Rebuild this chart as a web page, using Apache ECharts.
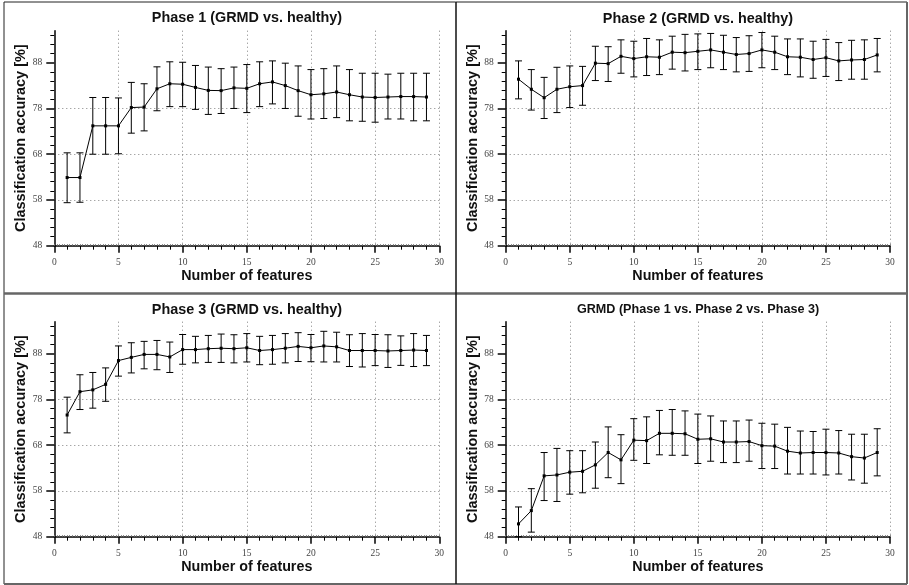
<!DOCTYPE html>
<html><head><meta charset="utf-8">
<script src="https://cdn.jsdelivr.net/npm/echarts@6/dist/echarts.min.js"></script>
<style>html,body{margin:0;padding:0;background:#fff}#c{width:909px;height:585px}</style>
</head><body><div id="c"></div>
<script>
const features = [1,2,3,4,5,6,7,8,9,10,11,12,13,14,15,16,17,18,19,20,21,22,23,24,25,26,27,28,29];
const yMajorTicks = [48,58,68,78,88];
const yMinorTicks = [50,52,54,56,60,62,64,66,70,72,74,76,80,82,84,86,90,92,94];
const titles = ['Phase 1 (GRMD vs. healthy)','Phase 2 (GRMD vs. healthy)','Phase 3 (GRMD vs. healthy)','GRMD (Phase 1 vs. Phase 2 vs. Phase 3)'];
const xName = 'Number of features';
const yName = 'Classification accuracy [%]';

const p1Mean = [62.9,62.9,74.2,74.2,74.2,78.2,78.3,82.3,83.4,83.3,82.6,81.95,81.9,82.5,82.4,83.4,83.8,83.0,81.9,81.0,81.2,81.6,81.0,80.5,80.4,80.5,80.6,80.6,80.5];
const p1Low  = [57.4,57.5,68.0,68.0,68.1,72.6,73.1,77.5,78.4,78.4,77.8,76.7,76.9,78.0,77.1,78.4,79.0,78.0,76.3,75.7,75.8,76.0,75.3,75.2,75.0,75.7,75.7,75.3,75.3];
const p1High = [68.3,68.3,80.4,80.4,80.3,83.7,83.4,87.1,88.2,88.1,87.4,87.05,86.7,87.05,87.6,88.2,88.4,87.9,87.3,86.5,86.7,87.3,86.5,85.7,85.7,85.5,85.7,85.7,85.7];

const p2Mean = [84.4,82.2,80.35,82.2,82.75,83.0,87.9,87.8,89.4,88.9,89.3,89.2,90.3,90.2,90.5,90.8,90.3,89.8,90.0,90.8,90.3,89.3,89.2,88.7,89.1,88.4,88.6,88.7,89.7];
const p2Low  = [80.1,77.65,75.8,77.1,78.2,78.7,84.1,83.9,85.7,84.9,85.2,85.4,86.6,86.2,86.5,86.9,86.5,86.0,86.1,86.9,86.5,85.4,84.9,84.6,85.0,84.1,84.4,84.4,86.0];
const p2High = [88.4,86.5,84.8,87.0,87.3,87.2,91.6,91.5,93.0,92.7,93.3,93.0,93.8,94.2,94.3,94.4,94.0,93.5,93.9,94.6,93.8,93.2,93.2,92.7,93.1,92.4,92.9,93.0,93.3];

const p3Mean = [74.6,79.7,80.1,81.3,86.5,87.2,87.85,87.85,87.3,88.9,88.9,89.1,89.2,89.1,89.3,88.7,88.9,89.2,89.6,89.3,89.7,89.5,88.7,88.7,88.7,88.6,88.7,88.8,88.7];
const p3Low  = [70.7,75.8,76.1,77.6,83.1,83.8,84.7,84.5,83.9,85.7,86.0,86.1,86.1,86.0,86.2,85.6,85.7,86.0,86.3,86.25,86.2,86.2,85.2,85.1,85.4,85.0,85.45,85.2,85.4];
const p3High = [78.5,83.4,83.9,84.9,89.7,90.4,90.7,90.9,90.55,92.2,91.8,92.0,92.3,92.15,92.4,91.8,92.0,92.4,92.6,92.2,92.9,92.7,92.15,92.4,92.2,92.15,91.9,92.4,92.0];

const p4Mean = [50.8,53.7,61.3,61.5,62.1,62.3,63.7,66.4,64.8,69.1,69.0,70.6,70.6,70.5,69.3,69.4,68.7,68.7,68.8,67.9,67.8,66.7,66.3,66.4,66.4,66.3,65.5,65.2,66.4];
const p4Low  = [48.0,49.0,55.9,55.7,57.3,57.6,58.6,60.9,59.6,64.7,64.0,65.9,65.8,65.8,64.0,64.5,64.2,64.2,64.5,62.9,62.9,61.7,61.7,61.7,61.5,61.7,60.4,59.7,61.3];
const p4High = [54.5,58.5,66.4,67.3,66.8,66.8,68.7,72.0,70.3,73.8,74.2,75.6,75.8,75.5,74.8,74.4,73.3,73.3,73.5,72.8,72.6,71.9,71.1,71.0,71.5,71.2,70.4,70.4,71.6];

const panels = [
  {mean:p1Mean, low:p1Low, high:p1High},
  {mean:p2Mean, low:p2Low, high:p2High},
  {mean:p3Mean, low:p3Low, high:p3High},
  {mean:p4Mean, low:p4Low, high:p4High}
];

// layout
const boxes = [
  {left:54.3, top:30.7, width:385, height:215, tx:247, ty:18.5, tfs:14.4},
  {left:505.7, top:30.7, width:384.3, height:215, tx:698, ty:19, tfs:14.4},
  {left:54.3, top:321.7, width:385, height:215, tx:247, ty:310.5, tfs:14.4},
  {left:505.7, top:321.7, width:384.3, height:215, tx:698, ty:310, tfs:12.6}
];

const serif = '"Liberation Serif","Times New Roman",serif';
const sans = '"Liberation Sans",Arial,Helvetica,sans-serif';
const dotted = {type:[1,3], color:'#808080', width:1};

const grid = [], xAxis = [], yAxis = [], series = [], graphic = [];

function renderErr(params, api) {
  const x = api.value(0), lo = api.value(1), hi = api.value(2);
  const a = api.coord([x, lo]), b = api.coord([x, hi]);
  const w = 3.5;
  const st = {stroke:'#000', lineWidth:1};
  return {type:'group', children:[
    {type:'line', shape:{x1:a[0], y1:a[1], x2:b[0], y2:b[1]}, style:st},
    {type:'line', shape:{x1:a[0]-w, y1:a[1], x2:a[0]+w, y2:a[1]}, style:st},
    {type:'line', shape:{x1:b[0]-w, y1:b[1], x2:b[0]+w, y2:b[1]}, style:st}
  ]};
}

boxes.forEach((bx, i) => {
  const g = {left:bx.left, top:bx.top, width:bx.width, height:bx.height, outerBoundsMode:'none', containLabel:false};
  grid.push(Object.assign({}, g));
  grid.push(Object.assign({}, g));
  const gm = 2*i, gs = 2*i+1;
  // main x axis
  xAxis.push({
    gridIndex:gm, type:'value', min:0, max:30, interval:5, position:'bottom',
    axisLine:{show:true, lineStyle:{color:'#000', width:1.5}},
    axisTick:{show:true, length:7, lineStyle:{color:'#000', width:1.5}},
    minorTick:{show:true, splitNumber:5, length:4, lineStyle:{color:'#000', width:1}},
    axisLabel:{show:true, fontFamily:serif, fontSize:9.5, color:'#444', margin:12},
    splitLine:{show:true, showMinLine:false, showMaxLine:true, lineStyle:dotted},
    name:xName, nameLocation:'middle', nameGap:19,
    nameTextStyle:{fontFamily:sans, fontWeight:'bold', fontSize:14.3, color:'#111'}
  });
  // fine x ticks
  xAxis.push({
    gridIndex:gs, type:'value', min:0, max:30, interval:0.2, position:'bottom',
    axisLine:{show:false}, axisLabel:{show:false}, splitLine:{show:false},
    axisTick:{show:true, inside:true, length:1.5, lineStyle:{color:'#777', width:1}}
  });
  // main y axis
  yAxis.push({
    gridIndex:gm, type:'value', min:48, max:95, interval:10, position:'left',
    axisLine:{show:true, lineStyle:{color:'#000', width:1.5}},
    axisTick:{show:true, length:8, customValues:yMajorTicks, lineStyle:{color:'#000', width:1.5}},
    axisLabel:{show:true, customValues:yMajorTicks, fontFamily:serif, fontSize:9.5, color:'#444', margin:12},
    splitLine:{show:true, showMinLine:false, showMaxLine:false, lineStyle:dotted},
    name:yName, nameLocation:'middle', nameGap:24, nameRotate:90,
    nameTextStyle:{fontFamily:sans, fontWeight:'bold', fontSize:14.5, color:'#111'}
  });
  // minor y ticks
  yAxis.push({
    gridIndex:gs, type:'value', min:48, max:95, position:'left',
    axisLine:{show:false}, axisLabel:{show:false}, splitLine:{show:false},
    axisTick:{show:true, length:4, customValues:yMinorTicks, lineStyle:{color:'#000', width:1}}
  });
  const p = panels[i];
  series.push({
    type:'custom', xAxisIndex:gm, yAxisIndex:gm, renderItem:renderErr,
    encode:{x:0, y:[1,2]}, silent:true, clip:false,
    data: features.map((f,k) => [f, p.low[k], p.high[k]]), z:2
  });
  series.push({
    type:'line', xAxisIndex:gm, yAxisIndex:gm, symbol:'rect', symbolSize:3,
    showSymbol:true, animation:false, silent:true,
    lineStyle:{color:'#000', width:1}, itemStyle:{color:'#000'},
    data: features.map((f,k) => [f, p.mean[k]]), z:3
  });
  graphic.push({
    type:'text', x:bx.tx, y:bx.ty,
    style:{text:titles[i], fontFamily:sans, fontWeight:'bold', fontSize:bx.tfs, fill:'#111', align:'center', verticalAlign:'middle'}
  });
});

// figure frame and dividers
const frame = [
  {x1:4, y1:2, x2:907, y2:2, c:'#222', w:1},
  {x1:4, y1:2, x2:4, y2:584, c:'#222', w:1},
  {x1:907, y1:2, x2:907, y2:584, c:'#666', w:2},
  {x1:4, y1:584, x2:907, y2:584, c:'#666', w:2},
  {x1:4, y1:293.5, x2:907, y2:293.5, c:'#666', w:2.5},
  {x1:456, y1:2, x2:456, y2:584, c:'#111', w:1.5}
];
frame.forEach(l => graphic.push({type:'line', silent:true, shape:{x1:l.x1, y1:l.y1, x2:l.x2, y2:l.y2}, style:{stroke:l.c, lineWidth:l.w}}));

const chart = echarts.init(document.getElementById('c'), null, {renderer:'canvas'});
chart.setOption({
  animation:false,
  backgroundColor:'#fff',
  grid, xAxis, yAxis, series, graphic
});
</script>
</body></html>
